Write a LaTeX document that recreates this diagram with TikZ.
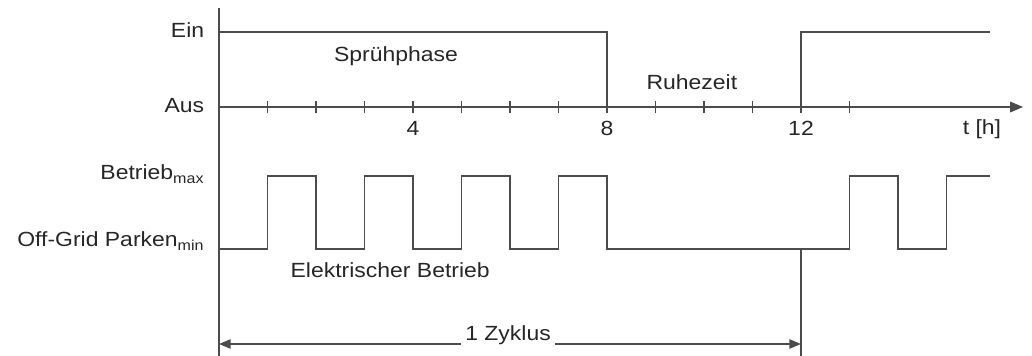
\documentclass[tikz,border=0pt]{standalone}
\usepackage{fontspec}
\setmainfont[FakeStretch=1.12]{Liberation Sans}
\usetikzlibrary{arrows.meta}
\begin{document}
\begin{tikzpicture}[x=1.455cm, y=1cm, line width=1.3pt,
		sig/.style={draw=black!70},
		lbl/.style={font=\fontsize{17.5}{20}\selectfont, inner sep=0pt, text=black!85, anchor=base},
		lev/.style={lbl, anchor=base east}]
	\useasboundingbox (-6.57cm,0) rectangle (24.39cm,10.68cm);
	
	% Achsen
	\coordinate (top) at (0,10.44);
	\coordinate (bot) at (0,0);
	\coordinate (null) at (0,7.47);
	\coordinate (tend) at (16.58,7.47);
	\draw[sig] (top) -- (bot);
	\draw[sig, -{Triangle[length=11pt,width=9pt]}] (null) -- (tend);
	\foreach \t in {1,...,13} \draw[sig, line width=1pt] (\t,7.28) -- (\t,7.66);
	\node[lbl] (n4) at (4,6.6) {4};
	\node[lbl] (n8) at (8,6.6) {8};
	\node[lbl] (n12) at (12,6.6) {12};
	\node[lbl] (th) at (15.73,6.63) {t [h]};
	
	% Pegel links
	\node[lev] (ein) at (-0.29,9.54) {Ein};
	\node[lev] (aus) at (-0.29,7.29) {Aus};
	\node[lev] (bmax) at (-0.29,5.28) {Betrieb\textsubscript{max}};
	\node[lev] (pmin) at (-0.29,3.27) {Off-Grid Parken\textsubscript{min}};
	
	% Sprühen / Ruhe
	\draw[sig] (0,9.72) -- (8,9.72) -- (8,7.47);
	\draw[sig] (12,7.47) -- (12,9.72) -- (15.9,9.72);
	\node[lbl] (spr) at (3.65,8.82) {Sprühphase};
	\node[lbl] (ruhe) at (9.75,7.98) {Ruhezeit};
	
	% Betrieb
	\draw[sig] (0,3.21) foreach \a in {1,3,5,7} { -- (\a,3.21) -- (\a,5.4) -- (\a+1,5.4) -- (\a+1,3.21) }
		-- (13,3.21) -- (13,5.4) -- (14,5.4) -- (14,3.21) -- (15,3.21) -- (15,5.4) -- (15.9,5.4);
	\node[lbl] (elek) at (3.53,2.34) {Elektrischer Betrieb};
	
	% Zyklus
	\coordinate (zs) at (0,0.36);
	\coordinate (ze) at (12,0.36);
	\draw[sig] (12,3.21) -- (12,0);
	\draw[sig, {Triangle[length=10pt,width=8pt]}-{Triangle[length=10pt,width=8pt]}] (zs) -- (ze);
	\node[lbl, fill=white, inner xsep=4pt, inner ysep=2pt] (zyk) at (5.96,0.45) {1 Zyklus};
\end{tikzpicture}
\end{document}
